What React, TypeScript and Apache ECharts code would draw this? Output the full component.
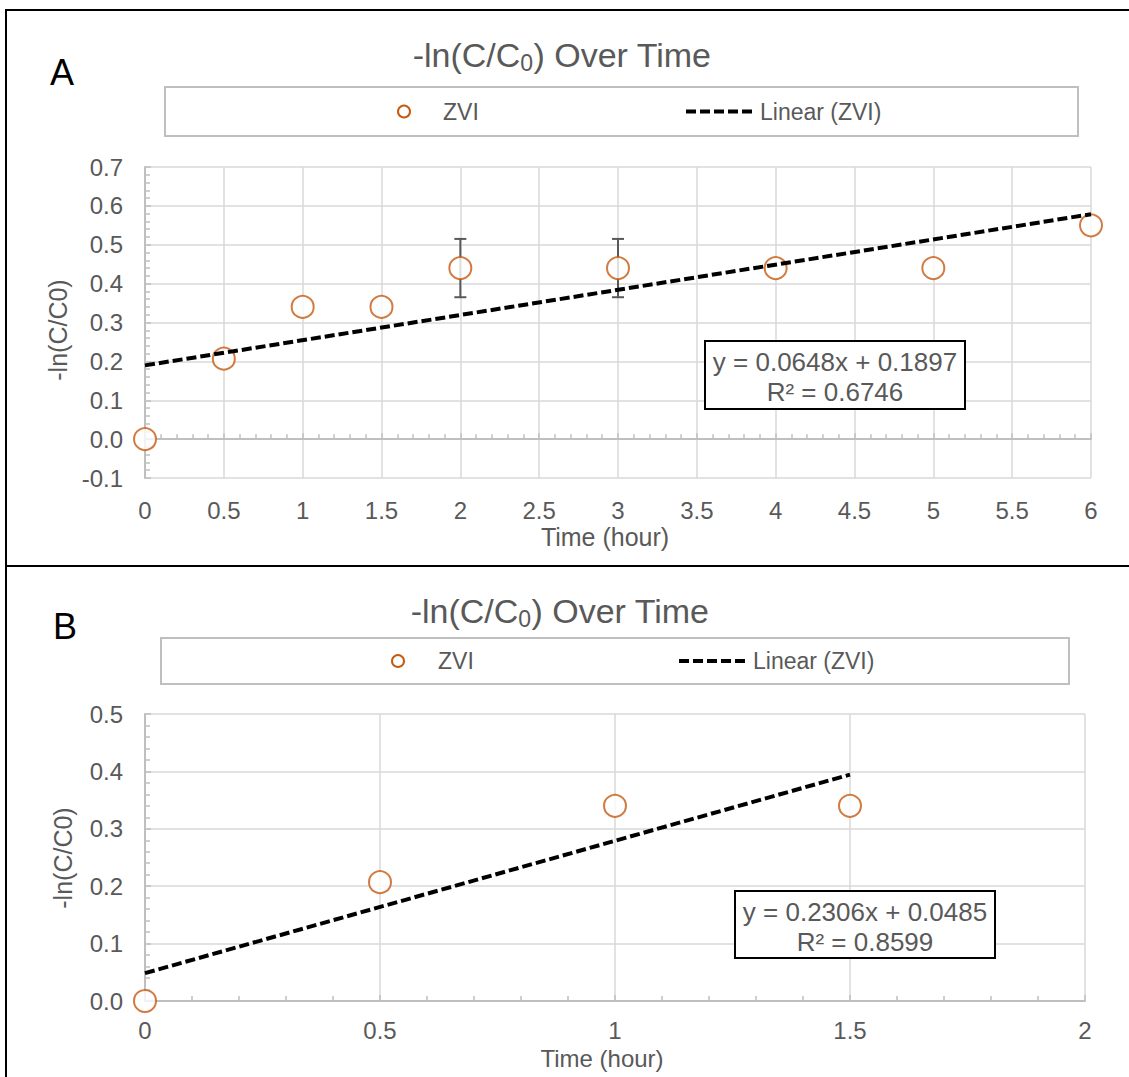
import React, { useEffect, useRef } from "react";
import * as echarts from "echarts";

// ---- Data ----
const xA = [0, 0.5, 1, 1.5, 2, 3, 4, 5, 6];
const yA = [0, 0.207, 0.34, 0.34, 0.44, 0.44, 0.44, 0.44, 0.55];
const errA = [0, 0, 0, 0, 0.075, 0.075, 0, 0, 0];
const slopeA = 0.0648;
const interceptA = 0.1897;
const r2A = 0.6746;

const xB = [0, 0.5, 1, 1.5];
const yB = [0, 0.207, 0.34, 0.34];
const slopeB = 0.2306;
const interceptB = 0.0485;
const r2B = 0.8599;

const xRangeA = [0, 6, 0.5];
const yRangeA = [-0.1, 0.7, 0.1];
const xRangeB = [0, 2, 0.5];
const yRangeB = [0, 0.5, 0.1];

const seriesName = "ZVI";
const trendName = "Linear (ZVI)";
const xTitle = "Time (hour)";
const yTitle = "-ln(C/C0)";

// ---- Styles ----
const FONT = '"Liberation Sans", Arial, Helvetica, sans-serif';
const LABEL = "#595959";
const ORANGE = "#C55A11";
const GRID = "#d9d9d9";
const AXIS = "#bfbfbf";
const TICK_FS = 24;
const AXIS_TITLE_FS = 25;

const fmtY = (v: number) => (Math.abs(v) < 1e-9 ? "0.0" : v.toFixed(1));

function yAxisDef(gridIndex: number, r: number[]) {
  return {
    type: "value",
    gridIndex,
    min: r[0],
    max: r[1],
    interval: r[2],
    axisLine: { show: true, onZero: false, lineStyle: { color: AXIS, width: 2 } },
    axisTick: { show: true, inside: true, length: 6, lineStyle: { color: AXIS, width: 1.5 } },
    minorTick: { show: true, splitNumber: 5, length: 5, lineStyle: { color: AXIS, width: 1.5 } },
    splitLine: { show: true, lineStyle: { color: GRID, width: 1.5 } },
    axisLabel: { color: LABEL, fontSize: TICK_FS, fontFamily: FONT, margin: 22, formatter: fmtY },
  };
}

function errRender(params: any, api: any) {
  const x = api.value(0);
  const y = api.value(1);
  const e = api.value(2);
  const top = api.coord([x, y + e]);
  const bot = api.coord([x, y - e]);
  const cw = 6;
  const st = { stroke: "#595959", lineWidth: 2 };
  return {
    type: "group",
    children: [
      { type: "line", shape: { x1: top[0], y1: top[1], x2: bot[0], y2: bot[1] }, style: st },
      { type: "line", shape: { x1: top[0] - cw, y1: top[1], x2: top[0] + cw, y2: top[1] }, style: st },
      { type: "line", shape: { x1: bot[0] - cw, y1: bot[1], x2: bot[0] + cw, y2: bot[1] }, style: st },
    ],
  };
}

function titleText(x: number, y: number) {
  return {
    type: "text",
    x,
    y,
    style: {
      text: "-ln(C/C{sub|0}) Over Time",
      fontSize: 34,
      fontFamily: FONT,
      fill: LABEL,
      lineHeight: 38,
      align: "center",
      verticalAlign: "middle",
      rich: {
        sub: { fontSize: 23, fontFamily: FONT, fill: LABEL, lineHeight: 38, verticalAlign: "bottom" },
      },
    },
  };
}

function axisTitles(xc: number, xy: number, yx: number, yc: number, fs: number) {
  return [
    { type: "text", x: xc, y: xy, style: { text: xTitle, fontSize: fs, fontFamily: FONT, fill: LABEL, align: "center", verticalAlign: "middle" } },
    {
      type: "text",
      x: yx,
      y: yc,
      rotation: Math.PI / 2,
      style: { text: yTitle, fontSize: AXIS_TITLE_FS, fontFamily: FONT, fill: LABEL, align: "center", verticalAlign: "middle" },
    },
  ];
}

function legend(box: number[], cx: number, tx1: number, lx1: number, lx2: number, tx2: number) {
  const cy = box[1] + box[3] / 2;
  return [
    { type: "rect", shape: { x: box[0], y: box[1], width: box[2], height: box[3] }, style: { fill: "#fff", stroke: AXIS, lineWidth: 2 } },
    { type: "circle", shape: { cx, cy, r: 6 }, style: { fill: "#fff", stroke: ORANGE, lineWidth: 2 } },
    { type: "text", x: tx1, y: cy, style: { text: seriesName, fontSize: 23, fontFamily: FONT, fill: LABEL, align: "left", verticalAlign: "middle" } },
    { type: "line", shape: { x1: lx1, y1: cy, x2: lx2, y2: cy }, style: { stroke: "#000", lineWidth: 4, lineDash: [10, 4] } },
    { type: "text", x: tx2, y: cy, style: { text: trendName, fontSize: 23, fontFamily: FONT, fill: LABEL, align: "left", verticalAlign: "middle" } },
  ];
}

function eqBox(box: number[], slope: number, intercept: number, r2: number) {
  const cx = box[0] + box[2] / 2;
  return [
    { type: "rect", z: 10, shape: { x: box[0], y: box[1], width: box[2], height: box[3] }, style: { fill: "#fff", stroke: "#000", lineWidth: 2 } },
    {
      type: "text",
      z: 11,
      x: cx,
      y: box[1] + 21,
      style: { text: `y = ${slope.toFixed(4)}x + ${intercept.toFixed(4)}`, fontSize: 26, fontFamily: FONT, fill: LABEL, align: "center", verticalAlign: "middle" },
    },
    {
      type: "text",
      z: 11,
      x: cx,
      y: box[1] + 51,
      style: { text: `R² = ${r2.toFixed(4)}`, fontSize: 26, fontFamily: FONT, fill: LABEL, align: "center", verticalAlign: "middle" },
    },
  ];
}

export default function App() {
  const ref = useRef<HTMLDivElement>(null);

  useEffect(() => {
    document.body.style.margin = "0";
    if (!ref.current) return;
    const chart = echarts.init(ref.current, null, { renderer: "svg" });

    const ptsA = xA.map((x, i) => [x, yA[i]]);
    const ptsB = xB.map((x, i) => [x, yB[i]]);
    const errDataA = xA.map((x, i) => [x, yA[i], errA[i]]).filter((d) => d[2] > 0);
    const trendA = [xA[0], xA[xA.length - 1]].map((x) => [x, interceptA + slopeA * x]);
    const trendB = [xB[0], xB[xB.length - 1]].map((x) => [x, interceptB + slopeB * x]);

    const trendStyle = { color: "#000", width: 4, type: [10, 4] };
    const markerStyle = { color: "#fff", borderColor: ORANGE, borderWidth: 2 };

    const option: any = {
      animation: false,
      backgroundColor: "#fff",
      textStyle: { fontFamily: FONT },
      grid: [
        { left: 145, top: 167, width: 946, height: 311 },
        { left: 145, top: 714, width: 940, height: 287 },
      ],
      xAxis: [
        {
          type: "value",
          gridIndex: 0,
          position: "bottom",
          min: xRangeA[0],
          max: xRangeA[1],
          interval: xRangeA[2],
          axisLine: { show: false, onZero: false },
          axisTick: { show: false },
          splitLine: { show: true, lineStyle: { color: GRID, width: 1.5 } },
          axisLabel: { color: LABEL, fontSize: TICK_FS, fontFamily: FONT, margin: 20 },
        },
        {
          type: "value",
          gridIndex: 0,
          position: "bottom",
          min: xRangeA[0],
          max: xRangeA[1],
          interval: xRangeA[2],
          axisLine: { show: true, onZero: true, onZeroAxisIndex: 0, lineStyle: { color: AXIS, width: 2 } },
          axisTick: { show: true, inside: true, length: 6, lineStyle: { color: AXIS, width: 1.5 } },
          minorTick: { show: true, splitNumber: 5, length: 5, lineStyle: { color: AXIS, width: 1.5 } },
          splitLine: { show: false },
          axisLabel: { show: false },
        },
        {
          type: "value",
          gridIndex: 1,
          position: "bottom",
          min: xRangeB[0],
          max: xRangeB[1],
          interval: xRangeB[2],
          axisLine: { show: true, onZero: false, lineStyle: { color: AXIS, width: 2 } },
          axisTick: { show: true, inside: true, length: 6, lineStyle: { color: AXIS, width: 1.5 } },
          minorTick: { show: true, splitNumber: 5, length: 5, lineStyle: { color: AXIS, width: 1.5 } },
          splitLine: { show: true, lineStyle: { color: GRID, width: 1.5 } },
          axisLabel: { color: LABEL, fontSize: TICK_FS, fontFamily: FONT, margin: 17 },
        },
      ],
      yAxis: [yAxisDef(0, yRangeA), yAxisDef(1, yRangeB)],
      series: [
        { type: "custom", name: "errA", xAxisIndex: 0, yAxisIndex: 0, data: errDataA, renderItem: errRender, z: 2, silent: true },
        { type: "scatter", name: seriesName, xAxisIndex: 0, yAxisIndex: 0, data: ptsA, symbol: "circle", symbolSize: 22, itemStyle: markerStyle, z: 3 },
        { type: "line", name: trendName, xAxisIndex: 0, yAxisIndex: 0, data: trendA, symbol: "none", showSymbol: false, lineStyle: trendStyle, z: 4 },
        { type: "scatter", name: seriesName + " B", xAxisIndex: 2, yAxisIndex: 1, data: ptsB, symbol: "circle", symbolSize: 22, itemStyle: markerStyle, z: 3 },
        { type: "line", name: trendName + " B", xAxisIndex: 2, yAxisIndex: 1, data: trendB, symbol: "none", showSymbol: false, lineStyle: trendStyle, z: 4 },
      ],
      graphic: [
        // panel borders
        { type: "line", shape: { x1: 5, y1: 10, x2: 1129, y2: 10 }, style: { stroke: "#000", lineWidth: 2 } },
        { type: "line", shape: { x1: 6, y1: 10, x2: 6, y2: 1077 }, style: { stroke: "#000", lineWidth: 2 } },
        { type: "line", shape: { x1: 5, y1: 566, x2: 1129, y2: 566 }, style: { stroke: "#000", lineWidth: 2 } },
        // panel letters
        { type: "text", x: 62, y: 72, style: { text: "A", fontSize: 36, fontFamily: FONT, fill: "#000", align: "center", verticalAlign: "middle" } },
        { type: "text", x: 65, y: 626, style: { text: "B", fontSize: 36, fontFamily: FONT, fill: "#000", align: "center", verticalAlign: "middle" } },
        // titles
        titleText(562, 55),
        titleText(560, 611),
        // axis titles
        ...axisTitles(605, 537, 58, 330, AXIS_TITLE_FS),
        ...axisTitles(602, 1058, 63, 858, 24),
        // legends
        ...legend([165, 87, 913, 49], 404, 443, 686, 752, 760),
        ...legend([161, 638, 908, 46], 398, 438, 679, 745, 753),
        // equation boxes
        ...eqBox([705, 341, 260, 68], slopeA, interceptA, r2A),
        ...eqBox([735, 891, 260, 67], slopeB, interceptB, r2B),
      ],
    };

    chart.setOption(option);
    return () => chart.dispose();
  }, []);

  return <div ref={ref} style={{ width: 1129, height: 1077, background: "#fff" }} />;
}
